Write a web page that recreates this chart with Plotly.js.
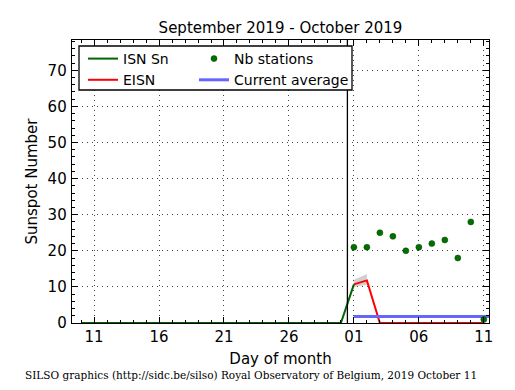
<!DOCTYPE html>
<html><head><meta charset="utf-8">
<script src="https://cdn.plot.ly/plotly-3.0.1.min.js"></script>
<style>html,body{margin:0;padding:0;background:#fff;} #chart{width:515px;height:390px;}</style>
</head><body><div id="chart"></div>
<script>
// x values: day number counted from 1 September 2019 (1 October = 31)
const isnDays = [10,11,12,13,14,15,16,17,18,19,20,21,22,23,24,25,26,27,28,29,30,31];
const isnValues = [0,0,0,0,0,0,0,0,0,0,0,0,0,0,0,0,0,0,0,0,0,10.7];
const eisnDays = [31,32,33,34,35,36,37,38,39,40,41];
const eisnValues = [10.7,11.8,0,0,0,0,0,0,0,0,0];
const bandDays = [31,32];
const bandLow = [10.0,10.6];
const bandHigh = [12.0,13.6];
const stationDays = [31,32,33,34,35,36,37,38,39,40,41];
const stationCounts = [21,21,25,24,20,21,22,23,18,28,1];
const avgDays = [31,42];
const avgValues = [1.8,1.8];
const monthBoundary = 30.5;
const xTickVals = [11,16,21,26,31,36,41];
const xTickText = ['11','16','21','26','01','06','11'];
const yTickVals = [0,10,20,30,40,50,60,70];

const FONT = 'DejaVu Sans, Verdana, sans-serif';

const traces = [
  {x: bandDays, y: bandLow, mode: 'lines', line: {width: 0, color: 'rgba(0,0,0,0)'}, showlegend: false, hoverinfo: 'skip'},
  {x: bandDays, y: bandHigh, mode: 'lines', line: {width: 0, color: 'rgba(0,0,0,0)'}, fill: 'tonexty', fillcolor: 'rgba(150,150,150,0.45)', showlegend: false, hoverinfo: 'skip'},
  {x: isnDays, y: isnValues, mode: 'lines', name: 'ISN Sn', line: {color: '#006400', width: 2}, legend: 'legend', legendrank: 1},
  {x: eisnDays, y: eisnValues, mode: 'lines', name: 'EISN', line: {color: '#ff0000', width: 2}, legend: 'legend', legendrank: 2},
  {x: avgDays, y: avgValues, mode: 'lines', name: 'Current average', line: {color: '#6666ff', width: 3}, legend: 'legend2', legendrank: 2},
  {x: stationDays, y: stationCounts, mode: 'markers', name: 'Nb stations', marker: {color: '#007000', size: 6, line: {color: '#004000', width: 0.5}}, legend: 'legend2', legendrank: 1, cliponaxis: false}
];

const axisCommon = {
  showline: true, linecolor: '#000', linewidth: 1.3, mirror: 'allticks',
  ticks: 'inside', ticklen: 6, tickwidth: 1, tickcolor: '#000',
  showgrid: true, gridcolor: '#444', gridwidth: 1, griddash: '1px,4px',
  zeroline: false,
  tickfont: {family: FONT, size: 15, color: '#000'}
};

const legendTop = (323 - 43) / 283;

const layout = {
  width: 515, height: 390,
  margin: {l: 72, r: 26, t: 40, b: 67},
  paper_bgcolor: '#fff', plot_bgcolor: '#fff',
  font: {family: FONT, color: '#000'},
  title: {text: 'September 2019 - October 2019', font: {family: FONT, size: 15, color: '#000'}, x: 0.5, xref: 'paper', xanchor: 'center', y: 1 - 28/390, yref: 'container', yanchor: 'middle'},
  xaxis: Object.assign({}, axisCommon, {
    range: [9.3, 41.4], tickmode: 'array', tickvals: xTickVals, ticktext: xTickText,
    minor: {dtick: 1, ticks: 'inside', ticklen: 3, tickcolor: '#000', showgrid: false},
    title: {text: 'Day of month', font: {family: FONT, size: 15, color: '#000'}, standoff: 8}
  }),
  yaxis: Object.assign({}, axisCommon, {
    range: [0, 78.4], tickmode: 'array', tickvals: yTickVals, ticklabelstandoff: 1,
    minor: {dtick: 2, ticks: 'inside', ticklen: 3, tickcolor: '#000', showgrid: false},
    title: {text: 'Sunspot Number', font: {family: FONT, size: 15, color: '#000'}, standoff: 6}
  }),
  shapes: [
    {type: 'line', xref: 'x', yref: 'paper', x0: monthBoundary, x1: monthBoundary, y0: 0, y1: 1, line: {color: '#000', width: 1.3}, layer: 'above'},
    {type: 'rect', xref: 'paper', yref: 'paper', x0: (79-72)/417, x1: (352-72)/417, y0: (323-90)/283, y1: (323-46)/283, line: {color: '#000', width: 1.3}, fillcolor: '#fff', layer: 'above'}
  ],
  legend: {x: (83-72)/417, y: legendTop, xanchor: 'left', yanchor: 'top', bgcolor: 'rgba(0,0,0,0)', borderwidth: 0, font: {family: FONT, size: 14, color: '#000'}, tracegroupgap: 0, traceorder: 'normal'},
  legend2: {x: (194-72)/417, y: legendTop, xanchor: 'left', yanchor: 'top', bgcolor: 'rgba(0,0,0,0)', borderwidth: 0, font: {family: FONT, size: 14, color: '#000'}, tracegroupgap: 0, traceorder: 'normal'},
  annotations: [
    {text: 'SILSO graphics (http://sidc.be/silso) Royal Observatory of Belgium, 2019 October 11', xref: 'paper', yref: 'paper', x: (251-72)/417, y: (323-375)/283, xanchor: 'center', yanchor: 'middle', showarrow: false, font: {family: 'DejaVu Serif, serif', size: 10.5, color: '#000'}}
  ]
};

Plotly.newPlot('chart', traces, layout, {displayModeBar: false, staticPlot: true});
</script></body></html>
